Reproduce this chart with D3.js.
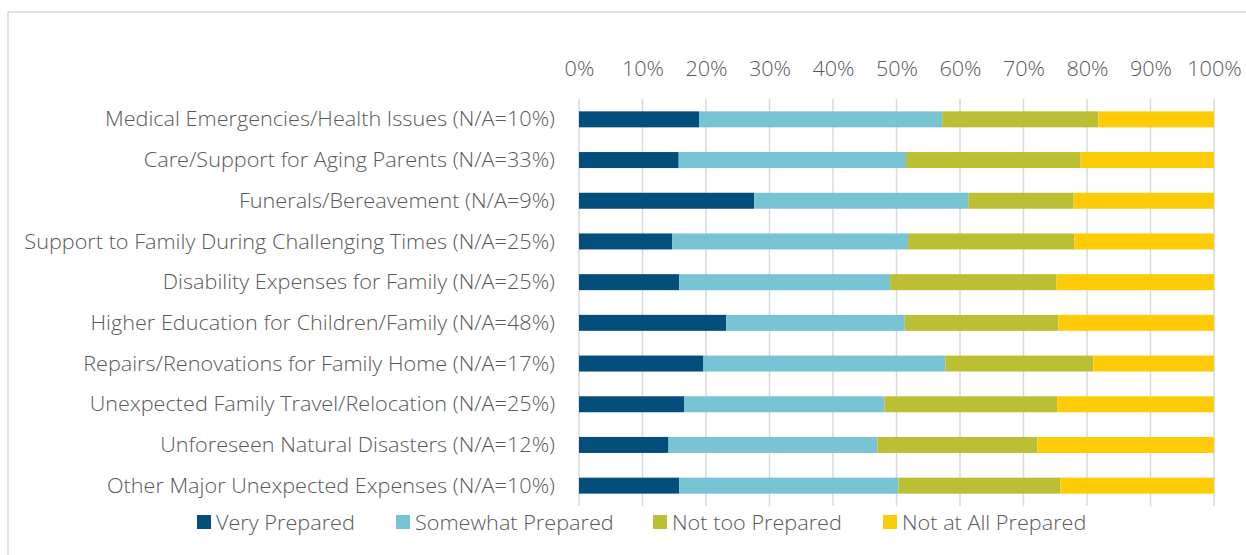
<!DOCTYPE html>
<html>
<head>
<meta charset="utf-8">
<script src="https://cdn.jsdelivr.net/npm/d3@7"></script>
<style>
  html, body { margin: 0; padding: 0; background: #fff; }
  svg { display: block; }
  text { font-family: "Open Sans", sans-serif; font-weight: 300; fill: #595959; }
</style>
</head>
<body>
<svg id="chart" width="1246" height="555"></svg>
<script>
const categories = [
  "Medical Emergencies/Health Issues (N/A=10%)",
  "Care/Support for Aging Parents (N/A=33%)",
  "Funerals/Bereavement (N/A=9%)",
  "Support to Family During Challenging Times (N/A=25%)",
  "Disability Expenses for Family (N/A=25%)",
  "Higher Education for Children/Family (N/A=48%)",
  "Repairs/Renovations for Family Home (N/A=17%)",
  "Unexpected Family Travel/Relocation (N/A=25%)",
  "Unforeseen Natural Disasters (N/A=12%)",
  "Other Major Unexpected Expenses (N/A=10%)"
];
const seriesNames = ["Very Prepared", "Somewhat Prepared", "Not too Prepared", "Not at All Prepared"];
const veryPrepared     = [18.9, 15.7, 27.6, 14.7, 15.8, 23.2, 19.6, 16.6, 14.1, 15.8];
const somewhatPrepared = [38.3, 35.8, 33.7, 37.1, 33.2, 28.1, 38.1, 31.5, 32.9, 34.5];
const notTooPrepared   = [24.6, 27.5, 16.6, 26.2, 26.2, 24.2, 23.3, 27.2, 25.2, 25.5];
const notAtAllPrepared = [18.2, 21.0, 22.1, 22.0, 24.8, 24.5, 19.0, 24.7, 27.8, 24.2];
const tickValues = [0, 10, 20, 30, 40, 50, 60, 70, 80, 90, 100];
const colors = ["#044E7C", "#78C4D4", "#BCBF34", "#FDCC07"];

const svg = d3.select("#chart");

// frame
svg.append("rect")
  .attr("x", 8).attr("y", 12).attr("width", 1300).attr("height", 600)
  .attr("fill", "none").attr("stroke", "#d9d9d9").attr("stroke-width", 1.5);

const x = d3.scaleLinear().domain([0, 100]).range([579, 1214]);
const y = d3.scaleBand().domain(categories).range([99, 506]).paddingInner(0.607).paddingOuter(0.3035);

const rows = categories.map((c, i) => {
  const vals = [veryPrepared[i], somewhatPrepared[i], notTooPrepared[i], notAtAllPrepared[i]];
  const total = d3.sum(vals);
  const o = { cat: c };
  seriesNames.forEach((s, k) => o[s] = vals[k] / total * 100);
  return o;
});
const stacked = d3.stack().keys(seriesNames)(rows);

// gridlines
svg.append("g").selectAll("line").data(tickValues).join("line")
  .attr("x1", d => x(d)).attr("x2", d => x(d))
  .attr("y1", 99).attr("y2", 506)
  .attr("stroke", "#d9d9d9").attr("stroke-width", 1.5);

// bars
svg.append("g").selectAll("g").data(stacked).join("g")
  .attr("fill", (d, i) => colors[i])
  .selectAll("rect").data(d => d).join("rect")
  .attr("x", d => x(d[0]))
  .attr("y", d => y(d.data.cat))
  .attr("width", d => x(d[1]) - x(d[0]))
  .attr("height", y.bandwidth());

const fontSize = 21;
const texts = [];
const fam = '"Open Sans", sans-serif';

// top axis labels
const xAxis = d3.axisTop(x).tickValues(tickValues).tickFormat(d => d + "%").tickSize(0);
const ax = svg.append("g").attr("transform", "translate(0,76)").call(xAxis);
ax.select(".domain").remove();
ax.selectAll("text").attr("y", 0).attr("dy", 0)
  .style("font-size", fontSize + "px").style("font-family", fam).style("font-weight", 300)
  .attr("fill", "#595959");
ax.selectAll("text").each(function () { texts.push(this); });

// category labels
const yAxis = d3.axisLeft(y).tickSize(0).tickPadding(0);
const ay = svg.append("g").attr("transform", "translate(555,0)").call(yAxis);
ay.select(".domain").remove();
ay.selectAll("text").attr("dy", "0.34em").attr("x", 0)
  .style("font-size", fontSize + "px").style("font-family", fam).style("font-weight", 300)
  .attr("fill", "#595959");
ay.selectAll("text").each(function () { texts.push(this); });

// compression factor to match the narrow original font
const ref = ay.select("text").node();
const factor = 450 / ref.getComputedTextLength();

// legend
const legendX = [197, 396, 653, 883];
const lg = svg.append("g").selectAll("g").data(seriesNames).join("g")
  .attr("transform", (d, i) => `translate(${legendX[i]},515)`);
lg.append("rect").attr("width", 14).attr("height", 14).attr("fill", (d, i) => colors[i]);
lg.append("text").attr("x", 19).attr("y", 14.5).text(d => d)
  .style("font-size", fontSize + "px");
lg.selectAll("text").each(function () { texts.push(this); });

texts.forEach(t => {
  const w = t.getComputedTextLength();
  t.setAttribute("textLength", w * factor);
  t.setAttribute("lengthAdjust", "spacingAndGlyphs");
});
</script>
</body>
</html>
